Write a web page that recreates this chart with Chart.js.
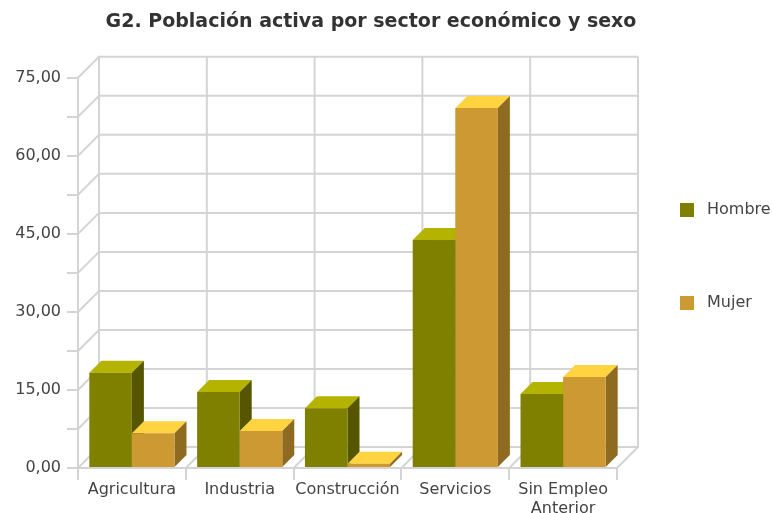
<!DOCTYPE html>
<html>
<head>
<meta charset="utf-8">
<script src="https://cdn.jsdelivr.net/npm/chart.js@4/dist/chart.umd.min.js"></script>
<style>
  html, body { margin: 0; padding: 0; background: #fff; }
  #wrap { width: 773px; height: 513px; }
</style>
</head>
<body>
<div id="wrap"><canvas id="grafico"></canvas></div>
<script>
const sectores = ['Agricultura', 'Industria', 'Construcción', 'Servicios', ['Sin Empleo', 'Anterior']];
const hombre = [18.3, 14.6, 11.5, 43.8, 14.2];
const mujer = [6.7, 7.1, 0.8, 69.2, 17.5];
const series = ['Hombre', 'Mujer'];

const colFrente = ['#808000', '#cc9933'];
const colTapa = ['#b4b400', '#ffd440'];
const colLado = ['#565600', '#8f6b22'];

const FUENTE = '"DejaVu Sans", sans-serif';
const GRIS = '#d4d4d4';
const FONDO = 21;   // profundidade da caixa 3D
const BARRA = 12;   // profundidade das barras

// desenha a caixa 3D (paredes, chão) e as faces de topo/lado das barras
const caixa3d = {
  id: 'caixa3d',
  beforeDatasetsDraw(chart) {
    const { ctx, chartArea: a, scales } = chart;
    const y = scales.y, x = scales.x;
    ctx.save();
    ctx.strokeStyle = GRIS;
    ctx.lineWidth = 2;
    ctx.beginPath();
    y.ticks.forEach(t => {
      const py = y.getPixelForValue(t.value);
      ctx.moveTo(a.left, py);
      ctx.lineTo(a.left + FONDO, py - FONDO);
      ctx.lineTo(a.right + FONDO, py - FONDO);
    });
    for (let i = 0; i <= sectores.length; i++) {
      const px = x.getPixelForValue(i - 0.5);
      ctx.moveTo(px, a.bottom);
      ctx.lineTo(px + FONDO, a.bottom - FONDO);
      ctx.lineTo(px + FONDO, a.top - FONDO);
    }
    ctx.stroke();

    chart.data.datasets.forEach((ds, di) => {
      chart.getDatasetMeta(di).data.forEach(bar => {
        const x0 = bar.x - bar.width / 2, x1 = bar.x + bar.width / 2;
        const top = bar.y, base = bar.base;
        ctx.fillStyle = colTapa[di];
        ctx.beginPath();
        ctx.moveTo(x0, top);
        ctx.lineTo(x0 + BARRA, top - BARRA);
        ctx.lineTo(x1 + BARRA, top - BARRA);
        ctx.lineTo(x1, top);
        ctx.closePath();
        ctx.fill();
        ctx.fillStyle = colLado[di];
        ctx.beginPath();
        ctx.moveTo(x1, top);
        ctx.lineTo(x1 + BARRA, top - BARRA);
        ctx.lineTo(x1 + BARRA, base - BARRA);
        ctx.lineTo(x1, base);
        ctx.closePath();
        ctx.fill();
      });
    });
    ctx.restore();
  },
  afterDraw(chart) {
    // legenda à direita
    const ctx = chart.ctx;
    const posY = [210, 303];
    ctx.save();
    ctx.font = '16px ' + FUENTE;
    ctx.textBaseline = 'middle';
    chart.data.datasets.forEach((ds, i) => {
      ctx.fillStyle = ds.backgroundColor;
      ctx.fillRect(680, posY[i] - 7, 14, 14);
      ctx.fillStyle = '#444';
      ctx.fillText(ds.label, 707, posY[i]);
    });
    ctx.restore();
  }
};

new Chart(document.getElementById('grafico'), {
  type: 'bar',
  data: {
    labels: sectores,
    datasets: [
      { label: series[0], data: hombre, backgroundColor: colFrente[0] },
      { label: series[1], data: mujer, backgroundColor: colFrente[1] }
    ]
  },
  options: {
    responsive: true,
    maintainAspectRatio: false,
    animation: false,
    categoryPercentage: 0.79,
    barPercentage: 1,
    layout: { padding: { left: 0, right: 31, top: 0, bottom: 0 } },
    plugins: {
      legend: { display: false },
      tooltip: { enabled: false },
      title: {
        display: true,
        text: 'G2. Población activa por sector económico y sexo',
        color: '#333',
        font: { family: FUENTE, size: 19, weight: 'bold' },
        padding: { top: 11, bottom: 44 }
      }
    },
    scales: {
      x: {
        afterFit: s => { s.height = 45; },
        border: { display: true, color: GRIS, width: 2 },
        grid: { offset: true, drawOnChartArea: false, drawTicks: true, tickLength: 12, color: GRIS, lineWidth: 2 },
        ticks: { color: '#444', font: { family: FUENTE, size: 16 }, padding: 0, maxRotation: 0, autoSkip: false }
      },
      y: {
        min: 0,
        max: 75,
        afterFit: s => { s.width = 78; },
        border: { display: true, color: GRIS, width: 2 },
        grid: { drawOnChartArea: false, drawTicks: true, tickLength: 11, color: GRIS, lineWidth: 2 },
        ticks: {
          stepSize: 7.5,
          color: '#444',
          padding: 6,
          font: { family: FUENTE, size: 16 },
          callback: v => (v % 15 === 0 ? v.toFixed(2).replace('.', ',') : '')
        }
      },
      // eixo vazio à direita só para reservar o espaço da legenda
      margem: {
        type: 'linear',
        position: 'right',
        afterFit: s => { s.width = 125; },
        border: { display: false },
        grid: { display: false },
        ticks: { display: false }
      }
    }
  },
  plugins: [caixa3d]
});
</script>
</body>
</html>
